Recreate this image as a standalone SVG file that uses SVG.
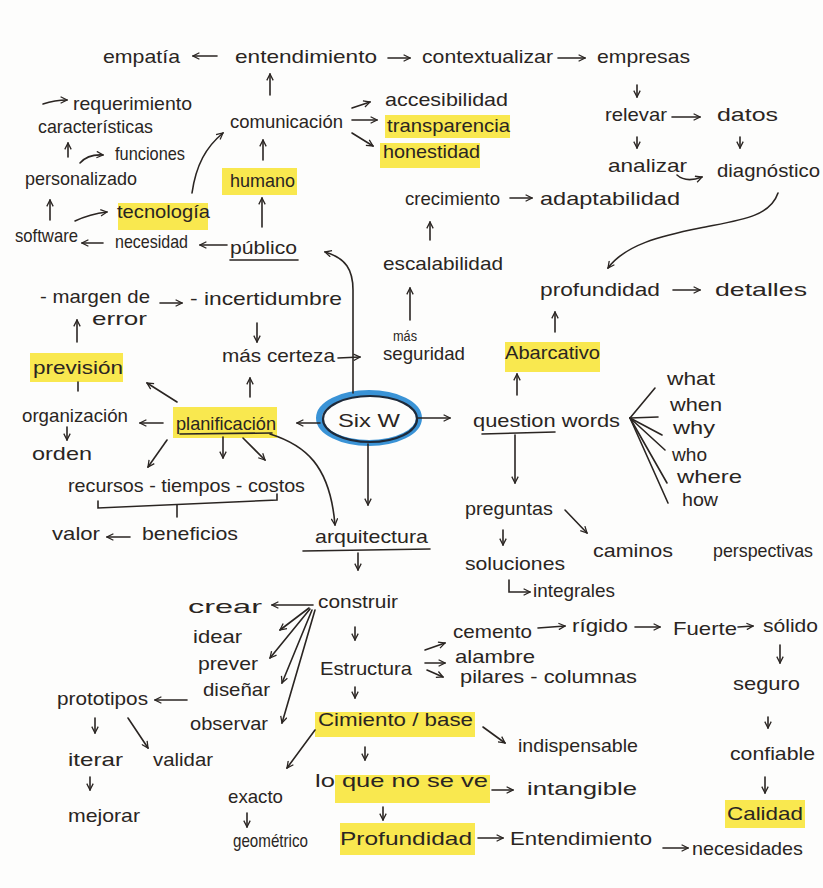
<svg xmlns="http://www.w3.org/2000/svg" width="823" height="888" viewBox="0 0 823 888">
<style>
text{font-family:"Liberation Sans","DejaVu Sans",sans-serif;font-size:19px;fill:#2a2522}
.sm{font-size:14px}
.hl{fill:#f8e63c;opacity:0.9}
.c{fill:none;stroke:#2a2522;stroke-width:1.6;stroke-linecap:round}
.ca{fill:none;stroke:#2a2522;stroke-width:1.6;stroke-linecap:round;marker-end:url(#ah)}
</style>
<defs>
<marker id="ah" viewBox="0 0 10 10" refX="9" refY="5" markerWidth="8" markerHeight="8" markerUnits="userSpaceOnUse" orient="auto">
<path d="M1,1 L9,5 L1,9" fill="none" stroke="#2a2522" stroke-width="1.6"/>
</marker>
</defs>
<rect width="823" height="888" fill="#fdfdfc"/>

<g id="highlights-and-nodes">
<g id="n-empatia"><text x="103" y="63" textLength="77" lengthAdjust="spacingAndGlyphs">empatía</text></g>
<g id="n-entendimiento"><text x="235" y="63" textLength="142" lengthAdjust="spacingAndGlyphs">entendimiento</text></g>
<g id="n-contextualizar"><text x="422" y="63" textLength="131" lengthAdjust="spacingAndGlyphs">contextualizar</text></g>
<g id="n-empresas"><text x="597" y="63" textLength="93" lengthAdjust="spacingAndGlyphs">empresas</text></g>
<g id="n-comunicacion"><text x="230" y="128" textLength="113" lengthAdjust="spacingAndGlyphs">comunicación</text></g>
<g id="n-accesibilidad"><text x="385" y="106" textLength="123" lengthAdjust="spacingAndGlyphs">accesibilidad</text></g>
<g id="n-transparencia"><rect class="hl" x="385" y="115" width="125" height="23"/><text x="387" y="132" textLength="123" lengthAdjust="spacingAndGlyphs">transparencia</text></g>
<g id="n-honestidad"><rect class="hl" x="380" y="143" width="100" height="25"/><text x="383" y="158" textLength="97" lengthAdjust="spacingAndGlyphs">honestidad</text></g>
<g id="n-crecimiento"><text x="405" y="205" textLength="95" lengthAdjust="spacingAndGlyphs">crecimiento</text></g>
<g id="n-adaptabilidad"><text x="540" y="205" textLength="140" lengthAdjust="spacingAndGlyphs">adaptabilidad</text></g>
<g id="n-escalabilidad"><text x="383" y="270" textLength="120" lengthAdjust="spacingAndGlyphs">escalabilidad</text></g>
<g id="n-relevar"><text x="605" y="121" textLength="62" lengthAdjust="spacingAndGlyphs">relevar</text></g>
<g id="n-datos"><text x="717" y="121" textLength="61" lengthAdjust="spacingAndGlyphs">datos</text></g>
<g id="n-analizar"><text x="608" y="172" textLength="79" lengthAdjust="spacingAndGlyphs">analizar</text></g>
<g id="n-diagnostico"><text x="717" y="177" textLength="103" lengthAdjust="spacingAndGlyphs">diagnóstico</text></g>
<g id="n-profundidad1"><text x="540" y="296" textLength="120" lengthAdjust="spacingAndGlyphs">profundidad</text></g>
<g id="n-detalles"><text x="715" y="296" textLength="92" lengthAdjust="spacingAndGlyphs">detalles</text></g>
<g id="n-abarcativo"><rect class="hl" x="505" y="342" width="95" height="30"/><text x="505" y="359" textLength="95" lengthAdjust="spacingAndGlyphs">Abarcativo</text></g>
<g id="n-mas-seguridad"><text class="sm" x="393" y="341" textLength="24" lengthAdjust="spacingAndGlyphs">más</text><text x="383" y="360" textLength="82" lengthAdjust="spacingAndGlyphs">seguridad</text></g>
<g id="n-mas-certeza"><text x="222" y="362" textLength="113" lengthAdjust="spacingAndGlyphs">más certeza</text></g>
<g id="n-margen"><text x="40" y="303" textLength="110" lengthAdjust="spacingAndGlyphs">- margen de</text><text x="92" y="325" textLength="55" lengthAdjust="spacingAndGlyphs">error</text></g>
<g id="n-incertidumbre"><text x="190" y="305" textLength="152" lengthAdjust="spacingAndGlyphs">- incertidumbre</text></g>
<g id="n-prevision"><rect class="hl" x="30" y="353" width="93" height="29"/><text x="33" y="374" textLength="90" lengthAdjust="spacingAndGlyphs">previsión</text></g>
<g id="n-organizacion"><text x="22" y="422" textLength="106" lengthAdjust="spacingAndGlyphs">organización</text></g>
<g id="n-orden"><text x="32" y="460" textLength="60" lengthAdjust="spacingAndGlyphs">orden</text></g>
<g id="n-planificacion"><rect class="hl" x="173" y="407" width="104" height="31"/><text x="176" y="430" textLength="100" lengthAdjust="spacingAndGlyphs">planificación</text><line class="c" x1="180" y1="434" x2="272" y2="433"/></g>
<g id="n-recursos"><text x="68" y="492" textLength="237" lengthAdjust="spacingAndGlyphs">recursos - tiempos - costos</text></g>
<g id="n-valor"><text x="52" y="540" textLength="48" lengthAdjust="spacingAndGlyphs">valor</text></g>
<g id="n-beneficios"><text x="142" y="540" textLength="96" lengthAdjust="spacingAndGlyphs">beneficios</text></g>
<g id="n-sixw"><ellipse cx="369" cy="418" rx="50" ry="25" fill="none" stroke="#3a93d6" stroke-width="6"/><ellipse cx="370" cy="419" rx="47" ry="23" fill="none" stroke="#1e2a3a" stroke-width="2.2"/><text x="338" y="427" textLength="62" lengthAdjust="spacingAndGlyphs">Six W</text></g>
<g id="n-question-words"><text x="473" y="427" textLength="147" lengthAdjust="spacingAndGlyphs">question words</text><line class="c" x1="482" y1="434" x2="555" y2="432"/></g>
<g id="n-what"><text x="667" y="385" textLength="48" lengthAdjust="spacingAndGlyphs">what</text></g>
<g id="n-when"><text x="670" y="411" textLength="52" lengthAdjust="spacingAndGlyphs">when</text></g>
<g id="n-why"><text x="673" y="434" textLength="42" lengthAdjust="spacingAndGlyphs">why</text></g>
<g id="n-who"><text x="672" y="461" textLength="35" lengthAdjust="spacingAndGlyphs">who</text></g>
<g id="n-where"><text x="677" y="483" textLength="65" lengthAdjust="spacingAndGlyphs">where</text></g>
<g id="n-how"><text x="682" y="506" textLength="36" lengthAdjust="spacingAndGlyphs">how</text></g>
<g id="n-preguntas"><text x="465" y="515" textLength="88" lengthAdjust="spacingAndGlyphs">preguntas</text></g>
<g id="n-caminos"><text x="593" y="557" textLength="80" lengthAdjust="spacingAndGlyphs">caminos</text></g>
<g id="n-perspectivas"><text x="713" y="557" textLength="100" lengthAdjust="spacingAndGlyphs">perspectivas</text></g>
<g id="n-soluciones"><text x="465" y="570" textLength="100" lengthAdjust="spacingAndGlyphs">soluciones</text></g>
<g id="n-integrales"><text x="533" y="597" textLength="82" lengthAdjust="spacingAndGlyphs">integrales</text></g>
<g id="n-arquitectura"><text x="315" y="543" textLength="113" lengthAdjust="spacingAndGlyphs">arquitectura</text><line class="c" x1="303" y1="551" x2="430" y2="549"/></g>
<g id="n-construir"><text x="318" y="608" textLength="80" lengthAdjust="spacingAndGlyphs">construir</text></g>
<g id="n-crear"><text x="188" y="613" textLength="74" lengthAdjust="spacingAndGlyphs">crear</text></g>
<g id="n-idear"><text x="193" y="643" textLength="49" lengthAdjust="spacingAndGlyphs">idear</text></g>
<g id="n-prever"><text x="198" y="670" textLength="60" lengthAdjust="spacingAndGlyphs">prever</text></g>
<g id="n-disenar"><text x="203" y="696" textLength="67" lengthAdjust="spacingAndGlyphs">diseñar</text></g>
<g id="n-observar"><text x="190" y="730" textLength="78" lengthAdjust="spacingAndGlyphs">observar</text></g>
<g id="n-prototipos"><text x="57" y="705" textLength="91" lengthAdjust="spacingAndGlyphs">prototipos</text></g>
<g id="n-iterar"><text x="68" y="766" textLength="55" lengthAdjust="spacingAndGlyphs">iterar</text></g>
<g id="n-validar"><text x="153" y="766" textLength="60" lengthAdjust="spacingAndGlyphs">validar</text></g>
<g id="n-mejorar"><text x="68" y="822" textLength="72" lengthAdjust="spacingAndGlyphs">mejorar</text></g>
<g id="n-estructura"><text x="320" y="675" textLength="92" lengthAdjust="spacingAndGlyphs">Estructura</text></g>
<g id="n-cemento"><text x="453" y="638" textLength="79" lengthAdjust="spacingAndGlyphs">cemento</text></g>
<g id="n-rigido"><text x="572" y="632" textLength="56" lengthAdjust="spacingAndGlyphs">rígido</text></g>
<g id="n-fuerte"><text x="673" y="635" textLength="64" lengthAdjust="spacingAndGlyphs">Fuerte</text></g>
<g id="n-solido"><text x="763" y="632" textLength="55" lengthAdjust="spacingAndGlyphs">sólido</text></g>
<g id="n-seguro"><text x="733" y="690" textLength="67" lengthAdjust="spacingAndGlyphs">seguro</text></g>
<g id="n-confiable"><text x="730" y="760" textLength="85" lengthAdjust="spacingAndGlyphs">confiable</text></g>
<g id="n-calidad"><rect class="hl" x="725" y="800" width="80" height="28"/><text x="727" y="820" textLength="76" lengthAdjust="spacingAndGlyphs">Calidad</text></g>
<g id="n-alambre"><text x="455" y="663" textLength="80" lengthAdjust="spacingAndGlyphs">alambre</text></g>
<g id="n-pilares"><text x="460" y="683" textLength="177" lengthAdjust="spacingAndGlyphs">pilares - columnas</text></g>
<g id="n-cimiento"><rect class="hl" x="315" y="712" width="160" height="25"/><text x="318" y="726" textLength="155" lengthAdjust="spacingAndGlyphs">Cimiento / base</text></g>
<g id="n-indispensable"><text x="518" y="752" textLength="120" lengthAdjust="spacingAndGlyphs">indispensable</text></g>
<g id="n-no-se-ve"><rect class="hl" x="335" y="775" width="155" height="28"/><text x="315" y="787" textLength="173" lengthAdjust="spacingAndGlyphs">lo que no se ve</text></g>
<g id="n-intangible"><text x="527" y="795" textLength="110" lengthAdjust="spacingAndGlyphs">intangible</text></g>
<g id="n-exacto"><text x="228" y="803" textLength="55" lengthAdjust="spacingAndGlyphs">exacto</text></g>
<g id="n-geometrico"><text x="233" y="847" textLength="75" lengthAdjust="spacingAndGlyphs">geométrico</text></g>
<g id="n-profundidad2"><rect class="hl" x="340" y="823" width="135" height="32"/><text x="340" y="845" textLength="132" lengthAdjust="spacingAndGlyphs">Profundidad</text></g>
<g id="n-entendimiento2"><text x="510" y="845" textLength="142" lengthAdjust="spacingAndGlyphs">Entendimiento</text></g>
<g id="n-necesidades"><text x="692" y="855" textLength="111" lengthAdjust="spacingAndGlyphs">necesidades</text></g>
<g id="n-requerimiento"><text x="73" y="110" textLength="119" lengthAdjust="spacingAndGlyphs">requerimiento</text></g>
<g id="n-caracteristicas"><text x="38" y="133" textLength="115" lengthAdjust="spacingAndGlyphs">características</text></g>
<g id="n-funciones"><text x="115" y="160" textLength="70" lengthAdjust="spacingAndGlyphs">funciones</text></g>
<g id="n-personalizado"><text x="25" y="185" textLength="112" lengthAdjust="spacingAndGlyphs">personalizado</text></g>
<g id="n-tecnologia"><rect class="hl" x="118" y="203" width="90" height="27"/><text x="117" y="218" textLength="93" lengthAdjust="spacingAndGlyphs">tecnología</text></g>
<g id="n-software"><text x="15" y="242" textLength="63" lengthAdjust="spacingAndGlyphs">software</text></g>
<g id="n-necesidad"><text x="115" y="248" textLength="73" lengthAdjust="spacingAndGlyphs">necesidad</text></g>
<g id="n-publico"><text x="230" y="254" textLength="67" lengthAdjust="spacingAndGlyphs">público</text><line class="c" x1="230" y1="260" x2="298" y2="260"/></g>
<g id="n-humano"><rect class="hl" x="222" y="168" width="75" height="27"/><text x="230" y="187" textLength="65" lengthAdjust="spacingAndGlyphs">humano</text></g>
</g>

<g id="connectors">
<line class="ca" x1="217" y1="56" x2="193" y2="56"/>
<line class="ca" x1="388" y1="58" x2="410" y2="58"/>
<line class="ca" x1="558" y1="58" x2="585" y2="58"/>
<line class="ca" x1="270" y1="95" x2="270" y2="74"/>
<line class="ca" x1="352" y1="108" x2="370" y2="102"/>
<line class="ca" x1="352" y1="120" x2="377" y2="120"/>
<line class="ca" x1="352" y1="133" x2="373" y2="146"/>
<line class="ca" x1="263" y1="160" x2="263" y2="140"/>
<line class="ca" x1="262" y1="227" x2="262" y2="198"/>
<line class="ca" x1="227" y1="245" x2="200" y2="245"/>
<line class="ca" x1="103" y1="243" x2="82" y2="243"/>
<line class="ca" x1="50" y1="220" x2="50" y2="200"/>
<path class="ca" d="M75,221 Q90,214 107,212"/>
<line class="ca" x1="68" y1="157" x2="68" y2="143"/>
<path class="ca" d="M80,163 Q88,154 103,155"/>
<path class="ca" d="M43,104 Q55,100 67,100"/>
<path class="ca" d="M192,193 C196,165 206,147 223,133"/>
<line class="ca" x1="637" y1="85" x2="637" y2="97"/>
<line class="ca" x1="672" y1="117" x2="700" y2="117"/>
<line class="ca" x1="637" y1="137" x2="637" y2="148"/>
<line class="ca" x1="740" y1="137" x2="740" y2="148"/>
<path class="ca" d="M677,175 Q686,183 702,177"/>
<path class="ca" d="M778,193 C770,217 740,220 700,228 C660,236 625,245 608,268"/>
<line class="ca" x1="430" y1="240" x2="430" y2="222"/>
<line class="ca" x1="510" y1="198" x2="532" y2="198"/>
<line class="ca" x1="410" y1="320" x2="410" y2="288"/>
<line class="ca" x1="338" y1="358" x2="360" y2="357"/>
<line class="ca" x1="257" y1="323" x2="257" y2="342"/>
<line class="ca" x1="160" y1="303" x2="182" y2="303"/>
<line class="ca" x1="77" y1="342" x2="77" y2="320"/>
<line class="c" x1="78" y1="382" x2="78" y2="391"/>
<line class="ca" x1="320" y1="423" x2="297" y2="423"/>
<line class="ca" x1="177" y1="402" x2="147" y2="383"/>
<line class="ca" x1="250" y1="397" x2="250" y2="378"/>
<line class="ca" x1="163" y1="423" x2="140" y2="423"/>
<line class="ca" x1="67" y1="427" x2="67" y2="440"/>
<line class="ca" x1="167" y1="440" x2="148" y2="467"/>
<line class="ca" x1="223" y1="437" x2="223" y2="458"/>
<line class="ca" x1="243" y1="438" x2="265" y2="460"/>
<path class="c" d="M98,501 L98,508 L277,500 L277,494"/>
<line class="c" x1="177" y1="505" x2="177" y2="517"/>
<line class="ca" x1="130" y1="537" x2="107" y2="537"/>
<path class="ca" d="M270,434 C305,445 330,465 335,525"/>
<path class="ca" d="M353,393 L353,290 C353,270 346,258 325,252"/>
<line class="ca" x1="368" y1="444" x2="368" y2="505"/>
<line class="ca" x1="418" y1="418" x2="450" y2="418"/>
<line class="ca" x1="517" y1="395" x2="517" y2="374"/>
<line class="ca" x1="555" y1="332" x2="555" y2="312"/>
<line class="ca" x1="673" y1="290" x2="700" y2="290"/>
<line class="ca" x1="515" y1="435" x2="515" y2="483"/>
<line class="c" x1="630" y1="418" x2="655" y2="388"/>
<line class="c" x1="630" y1="418" x2="658" y2="417"/>
<line class="c" x1="630" y1="418" x2="662" y2="435"/>
<line class="c" x1="630" y1="418" x2="665" y2="450"/>
<line class="c" x1="630" y1="418" x2="667" y2="483"/>
<line class="c" x1="630" y1="418" x2="668" y2="503"/>
<line class="ca" x1="565" y1="510" x2="587" y2="533"/>
<line class="ca" x1="503" y1="530" x2="503" y2="545"/>
<path class="ca" d="M509,580 L509,592 L530,592"/>
<line class="ca" x1="358" y1="553" x2="358" y2="570"/>
<line class="ca" x1="313" y1="605" x2="272" y2="605"/>
<line class="ca" x1="309" y1="608" x2="280" y2="630"/>
<line class="ca" x1="310" y1="609" x2="270" y2="658"/>
<line class="ca" x1="312" y1="610" x2="282" y2="683"/>
<line class="ca" x1="315" y1="610" x2="282" y2="723"/>
<line class="ca" x1="355" y1="627" x2="355" y2="640"/>
<line class="ca" x1="425" y1="650" x2="445" y2="643"/>
<line class="ca" x1="425" y1="663" x2="445" y2="663"/>
<line class="ca" x1="427" y1="670" x2="443" y2="677"/>
<line class="ca" x1="355" y1="687" x2="355" y2="698"/>
<line class="ca" x1="187" y1="700" x2="155" y2="700"/>
<line class="ca" x1="95" y1="718" x2="95" y2="733"/>
<line class="ca" x1="128" y1="718" x2="148" y2="748"/>
<line class="ca" x1="90" y1="777" x2="90" y2="790"/>
<line class="ca" x1="538" y1="628" x2="565" y2="626"/>
<line class="ca" x1="635" y1="627" x2="660" y2="627"/>
<line class="ca" x1="738" y1="627" x2="753" y2="626"/>
<line class="ca" x1="780" y1="645" x2="780" y2="663"/>
<line class="ca" x1="768" y1="717" x2="768" y2="728"/>
<line class="ca" x1="765" y1="777" x2="765" y2="793"/>
<line class="ca" x1="483" y1="727" x2="505" y2="743"/>
<line class="ca" x1="365" y1="747" x2="365" y2="760"/>
<line class="ca" x1="315" y1="730" x2="287" y2="768"/>
<line class="ca" x1="492" y1="790" x2="513" y2="790"/>
<line class="ca" x1="383" y1="807" x2="383" y2="820"/>
<line class="ca" x1="247" y1="813" x2="247" y2="827"/>
<line class="ca" x1="478" y1="838" x2="503" y2="838"/>
<line class="ca" x1="663" y1="848" x2="688" y2="848"/>
</g>
</svg>
